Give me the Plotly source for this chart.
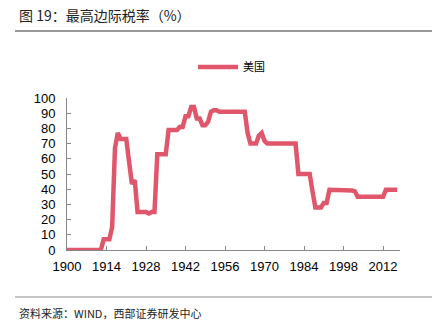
import plotly.graph_objects as go

years = list(range(1900, 2018))
rate_by_year = {}
for y in range(1900, 1913): rate_by_year[y] = 0
rate_by_year.update({1913: 7, 1914: 7, 1915: 7, 1916: 15, 1917: 67, 1918: 77, 1919: 73, 1920: 73,
                     1921: 73, 1922: 58, 1923: 43.5, 1924: 46, 1925: 25, 1926: 25, 1927: 25, 1928: 25,
                     1929: 24, 1930: 25, 1931: 25, 1932: 63, 1933: 63, 1934: 63, 1935: 63, 1936: 79,
                     1937: 79, 1938: 79, 1939: 79, 1940: 81.1, 1941: 81, 1942: 88, 1943: 88, 1944: 94,
                     1945: 94, 1946: 86.45, 1947: 86.45, 1948: 82.13, 1949: 82.13, 1950: 84.36,
                     1951: 91, 1952: 92, 1953: 92})
for y in range(1954, 1964): rate_by_year[y] = 91
rate_by_year.update({1964: 77, 1965: 70, 1966: 70, 1967: 70, 1968: 75.25, 1969: 77, 1970: 71.75})
for y in range(1971, 1982): rate_by_year[y] = 70
for y in range(1982, 1987): rate_by_year[y] = 50
rate_by_year.update({1987: 38.5, 1988: 28, 1989: 28, 1990: 28, 1991: 31, 1992: 31})
for y in range(1993, 2001): rate_by_year[y] = 39.6
rate_by_year.update({2001: 39.1, 2002: 38.6})
for y in range(2003, 2013): rate_by_year[y] = 35
for y in range(2013, 2018): rate_by_year[y] = 39.6
rates = [rate_by_year[y] for y in years]

x_ticks = [1900, 1914, 1928, 1942, 1956, 1970, 1984, 1998, 2012]
y_ticks = list(range(0, 101, 10))

W, H = 439, 329
L, R, T, B = 67, 39, 98, 79
pw, ph = W - L - R, H - T - B

def px(x): return (x - L) / pw
def py(y): return (H - B - y) / ph

color = '#E0566B'
fig = go.Figure()
fig.add_trace(go.Scatter(x=years, y=rates, mode='lines', name='美国',
                         line=dict(color=color, width=4.5)))

fig.update_layout(
    width=W, height=H, margin=dict(l=L, r=R, t=T, b=B),
    paper_bgcolor='white', plot_bgcolor='white',
    font=dict(family='Liberation Sans, Arial', size=13, color='#000'),
    showlegend=True,
    legend=dict(orientation='h', x=px(193), y=py(67), xanchor='left', yanchor='middle',
                font=dict(family='Noto Sans CJK SC', size=11, color='#000'),
                itemwidth=40, bgcolor='rgba(0,0,0,0)'),
    xaxis=dict(range=[1900, 2018], tickvals=x_ticks, ticks='inside', ticklen=4,
               tickcolor='#888', showline=True, linecolor='#888', linewidth=1,
               showgrid=False, zeroline=False, tickfont=dict(size=13), ticklabelstandoff=4),
    yaxis=dict(range=[0, 100], tickvals=y_ticks, ticks='inside', ticklen=4,
               tickcolor='#888', showline=True, linecolor='#888', linewidth=1,
               showgrid=False, zeroline=False, tickfont=dict(size=13), ticklabelstandoff=8),
    annotations=[
        dict(text='图 19：最高边际税率（%）', xref='paper', yref='paper', x=px(17), y=py(15),
             xanchor='left', yanchor='middle', showarrow=False,
             font=dict(family='Noto Sans CJK SC', size=14, color='#222')),
        dict(text='资料来源：WIND，西部证券研发中心', xref='paper', yref='paper', x=px(17), y=py(313),
             xanchor='left', yanchor='middle', showarrow=False,
             font=dict(family='Noto Sans CJK SC', size=11, color='#222')),
    ],
    shapes=[
        dict(type='line', xref='paper', yref='paper', x0=px(15), x1=px(432), y0=py(31), y1=py(31),
             line=dict(color='#333', width=1)),
        dict(type='line', xref='paper', yref='paper', x0=px(15), x1=px(432), y0=py(297), y1=py(297),
             line=dict(color='#888', width=1)),
    ],
)
fig.write_html('out.html')
